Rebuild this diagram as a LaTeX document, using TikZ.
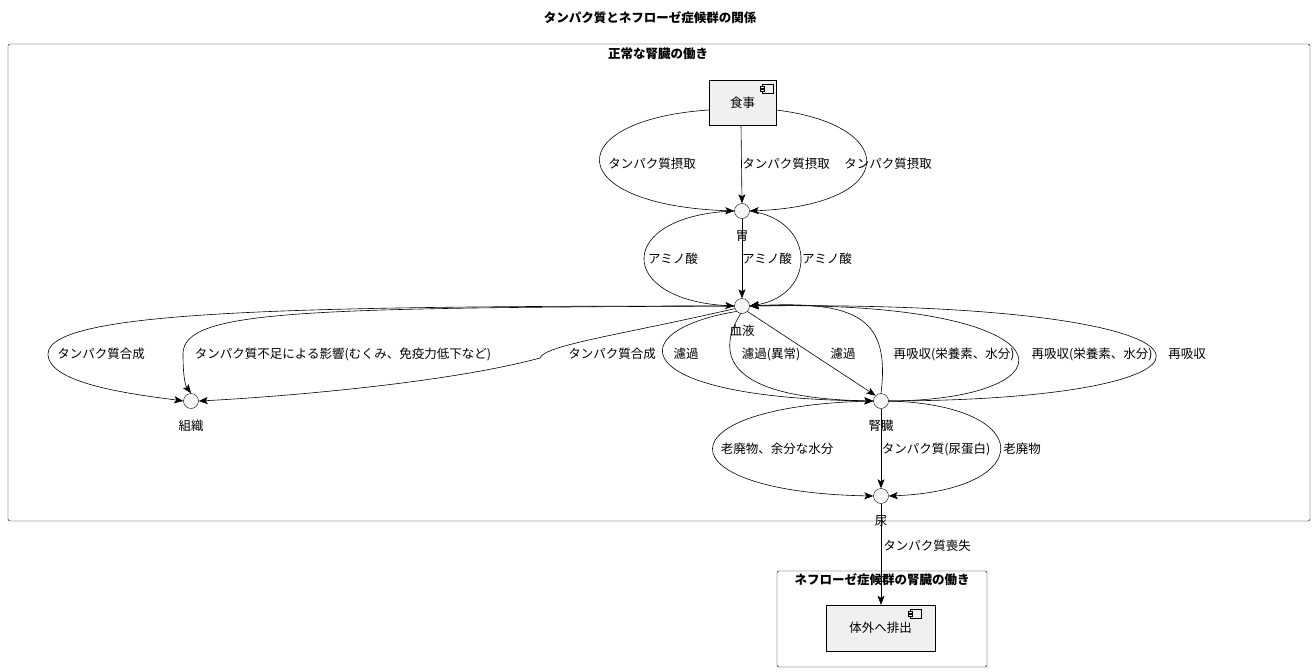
\documentclass[tikz,border=0pt]{standalone}
\usepackage{fontspec}
\setmainfont{Noto Sans CJK JP}
\usetikzlibrary{arrows.meta}
\begin{document}
\begin{tikzpicture}[x=1pt,y=-1pt,
  txt/.style={font=\fontsize{12.5}{14}\selectfont,inner sep=1pt},
  ttl/.style={font=\fontsize{12.5}{14}\selectfont\bfseries,inner sep=1pt},
  ball/.style={circle,draw,fill=gray!8,minimum size=15pt,inner sep=0pt},
  comp/.style={draw,fill=gray!12,inner sep=0pt,font=\fontsize{12.5}{14}\selectfont},
  frame/.style={draw,rounded corners=2pt},
  arr/.style={draw,-{Stealth[length=9pt,width=7pt,inset=2pt]},line width=0.6pt}]
\useasboundingbox (0,0) rectangle (1315,672);
\fill[white] (0,0) rectangle (1315,672);
\node[ttl] (title) at (650,18) {タンパク質とネフローゼ症候群の関係};
\draw[frame] (8,44) rectangle (1310,521);
\node[ttl] (f1) at (658,54) {正常な腎臓の働き};
\draw[frame] (777,571) rectangle (987,667);
\node[ttl] (f2) at (882,580) {ネフローゼ症候群の腎臓の働き};
\node[comp,minimum width=67pt,minimum height=45pt] (food) at (742.5,102.5) {\raisebox{-4pt}{食事}\hspace{6pt}};
\node[comp,minimum width=109pt,minimum height=46pt] (out) at (880.5,628) {\raisebox{-4pt}{体外へ排出}};
\foreach \n/\x/\y in {food/762/84, out/910/609}{
  \draw[fill=gray!12] (\x,\y) rectangle ++(11,9);
  \draw[fill=gray!12] (\x-2,\y+2) rectangle ++(4,2);
  \draw[fill=gray!12] (\x-2,\y+5) rectangle ++(4,2);
}
\node[ball] (stomach) at (742,211) {};
\node[ball] (blood) at (742,306) {};
\node[ball] (tissue) at (191,401) {};
\node[ball] (kidney) at (881,401) {};
\node[ball] (urine) at (881,496) {};
\node[txt] (l1) at (742,236) {胃};
\node[txt] (l2) at (742,331) {血液};
\node[txt] (l3) at (191,426) {組織};
\node[txt] (l4) at (881,426) {腎臓};
\node[txt] (l5) at (881,521) {尿};
% food -> stomach
\path[arr] (food.west|-0,110) .. controls (560,120) and (560,205) .. (stomach.west);
\path[arr] (food.south-|741,0) -- (stomach.north);
\path[arr] (food.east|-0,110) .. controls (900,125) and (900,205) .. (stomach.east);
\node[txt] at (652,164) {タンパク質摂取};
\node[txt] at (786,164) {タンパク質摂取};
\node[txt] at (888,164) {タンパク質摂取};
% stomach -> blood
\path[arr] (stomach.west) .. controls (615,215) and (615,300) .. (blood.west);
\path[arr] (stomach.south) -- (blood.north);
\path[arr] (stomach.east) .. controls (817,220) and (817,295) .. (blood.east);
\node[txt] at (673,259) {アミノ酸};
\node[txt] at (767,259) {アミノ酸};
\node[txt] at (827,259) {アミノ酸};
% blood -> tissue
\path[arr] (blood.west) .. controls (300,306) and (48,310) .. (48,354) .. controls (48,385) and (140,395) .. (tissue.west);
\path[arr] (blood.west) .. controls (300,308) and (183,310) .. (183,354) .. controls (183,375) and (185,385) .. (tissue.north);
\path[arr] (blood.200) .. controls (620,335) and (545,345) .. (540,358) .. controls (440,385) and (260,398) .. (tissue.east);
\node[txt] at (101,354) {タンパク質合成};
\node[txt] at (343,354) {タンパク質不足による影響(むくみ、免疫力低下など)};
\node[txt] at (612,354) {タンパク質合成};
% blood -> kidney
\path[arr] (blood.225) .. controls (622,330) and (622,398) .. (kidney.west);
\path[arr] (blood.260) .. controls (718,350) and (718,398) .. (kidney.west);
\path[arr] (blood.315) -- (kidney.135);
\node[txt] at (686,354) {濾過};
\node[txt] at (771,354) {濾過(異常)};
\node[txt] at (843,354) {濾過};
% kidney -> blood
\path[arr] (kidney.north) .. controls (890,320) and (860,300) .. (blood.east);
\path[arr] (kidney.east) .. controls (1080,400) and (1080,300) .. (blood.east);
\path[arr] (kidney.east) .. controls (1265,400) and (1265,300) .. (blood.east);
\node[txt] at (954,354) {再吸収(栄養素、水分)};
\node[txt] at (1092,354) {再吸収(栄養素、水分)};
\node[txt] at (1187,354) {再吸収};
% kidney -> urine
\path[arr] (kidney.west) .. controls (660,405) and (660,492) .. (urine.west);
\path[arr] (kidney.south) -- (urine.north);
\path[arr] (kidney.east) .. controls (1037,405) and (1037,490) .. (urine.east);
\node[txt] at (777,449) {老廃物、余分な水分};
\node[txt] at (936,449) {タンパク質(尿蛋白)};
\node[txt] at (1022,449) {老廃物};
% urine -> out
\path[arr] (urine.south) -- (out.north-|urine.south);
\node[txt] at (927,546) {タンパク質喪失};
\end{tikzpicture}
\end{document}
